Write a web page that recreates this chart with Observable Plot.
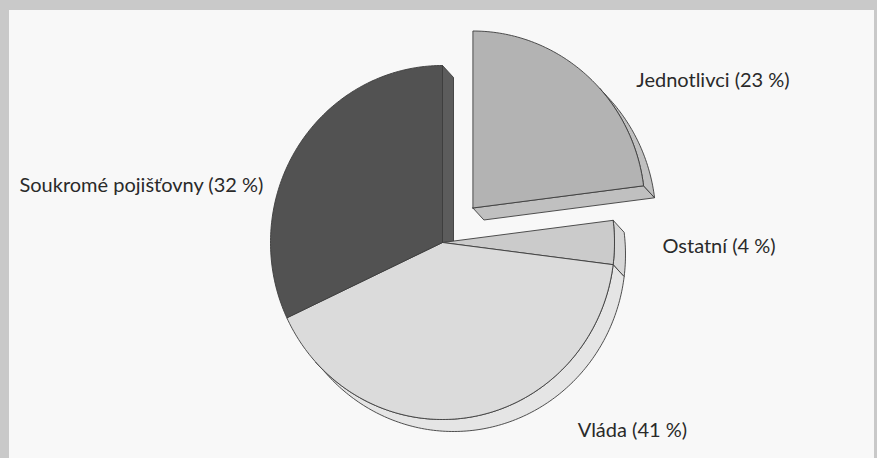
<!DOCTYPE html>
<html><head><meta charset="utf-8">
<script src="https://cdn.jsdelivr.net/npm/d3@7"></script>
<script src="https://cdn.jsdelivr.net/npm/@observablehq/plot@0.6"></script>
<style>
body{margin:0;background:#fff}
#wrap{position:relative;width:877px;height:458px;background:#c9c9c9;overflow:hidden}
#paper{position:absolute;left:9px;top:10px;right:3px;bottom:0;background:#f8f8f8}
#chart{position:absolute;left:0;top:0}
</style></head><body>
<div id="wrap"><div id="paper"></div><div id="chart"></div></div>
<script>
// ---- data ----
const categories = ["Jednotlivci", "Ostatní", "Vláda", "Soukromé pojišťovny"];
const shares = [23, 4, 41, 32];
const labels = ["Jednotlivci (23 %)", "Ostatní (4 %)", "Vláda (41 %)", "Soukromé pojišťovny (32 %)"];
const exploded = [true, false, false, false];

// ---- layout / style ----
const W = 877, H = 458, cx = 442, cy = 242, rx = 172, ry = 177;
const depth = [11, 12];
const explodeBy = 46;
const topFill = ["#b3b3b3", "#cbcbcb", "#dbdbdb", "#525252"];
const sideFill = ["#c0c0c0", "#d6d6d6", "#e5e5e5", "#5c5c5c"];
const labelPlace = [[50.9, 1.452, "start"], [91, 1.279, "start"], [143.5, 1.321, "start"], [287.2, 1.09, "end"]];

const rad = d => d * Math.PI / 180;
const total = d3.sum(shares);
let acc = 0;
const slices = categories.map((c, i) => {
  const a0 = acc / total * 360; acc += shares[i];
  const a1 = acc / total * 360;
  return {i, c, a0, a1, mid: (a0 + a1) / 2};
});
function origin(s) {
  if (!exploded[s.i]) return [cx, cy];
  return [cx + explodeBy * Math.sin(rad(s.mid)), cy - explodeBy * Math.cos(rad(s.mid))];
}
function pt(o, t, sh = [0, 0]) {
  return [o[0] + rx * Math.sin(rad(t)) + sh[0], o[1] - ry * Math.cos(rad(t)) + sh[1]];
}
function arc(o, a0, a1, sh) {
  const n = Math.max(2, Math.ceil(a1 - a0));
  const p = [];
  for (let k = 0; k <= n; k++) p.push(pt(o, a0 + (a1 - a0) * k / n, sh));
  return p;
}
const phi = Math.atan2(depth[1], depth[0]) * 180 / Math.PI; // rim visible for theta in (phi, phi+180)
const facing = n => depth[0] * Math.sin(rad(n)) - depth[1] * Math.cos(rad(n)) > 0;

const sides = [], tops = [];
let id = 0;
function push(arr, pts, fill) {
  const k = id++;
  pts.concat([pts[0]]).forEach(([x, y]) => arr.push({id: k, x, y, fill}));
}
const N = slices.length;
slices.forEach(s => {
  const o = origin(s);
  const os = [o[0] + depth[0], o[1] + depth[1]];
  const prev = slices[(s.i - 1 + N) % N], next = slices[(s.i + 1) % N];
  // radial faces
  if ((exploded[s.i] || exploded[prev.i]) && facing(s.a0 - 90)) {
    const p = pt(o, s.a0), q = pt(o, s.a0, depth);
    push(sides, [o, p, q, os], sideFill[s.i]);
  }
  if ((exploded[s.i] || exploded[next.i]) && facing(s.a1 + 90)) {
    const p = pt(o, s.a1), q = pt(o, s.a1, depth);
    push(sides, [o, p, q, os], sideFill[s.i]);
  }
  // outer rim
  const lo = Math.max(s.a0, phi), hi = Math.min(s.a1, phi + 180);
  if (lo < hi) {
    push(sides, arc(o, lo, hi).concat(arc(o, lo, hi, depth).reverse()), sideFill[s.i]);
  }
  push(tops, [o].concat(arc(o, s.a0, s.a1)), topFill[s.i]);
});

const labelRows = labels.map((t, i) => {
  const [a, r, anchor] = labelPlace[i];
  return {t, anchor, x: cx + rx * r * Math.sin(rad(a)), y: cy - ry * r * Math.cos(rad(a))};
});

const textOpts = {x: "x", y: "y", text: "t", fontSize: 20, fill: "#2a2a2a", fontFamily: "Lato, 'Open Sans', sans-serif"};
const chart = Plot.plot({
  width: W, height: H, margin: 0,
  x: {domain: [0, W], range: [0, W], axis: null},
  y: {domain: [0, H], range: [0, H], axis: null},
  color: {type: "identity"},
  style: {background: "transparent", overflow: "visible"},
  marks: [
    Plot.line(sides, {x: "x", y: "y", z: "id", fill: "fill", stroke: "#3c3c3c", strokeWidth: 0.9, strokeLinejoin: "round"}),
    Plot.line(tops, {x: "x", y: "y", z: "id", fill: "fill", stroke: "#3c3c3c", strokeWidth: 0.9, strokeLinejoin: "round"}),
    Plot.text(labelRows.filter(d => d.anchor === "start"), {...textOpts, textAnchor: "start"}),
    Plot.text(labelRows.filter(d => d.anchor === "end"), {...textOpts, textAnchor: "end"})
  ]
});
document.getElementById("chart").appendChild(chart);
</script>
</body></html>
